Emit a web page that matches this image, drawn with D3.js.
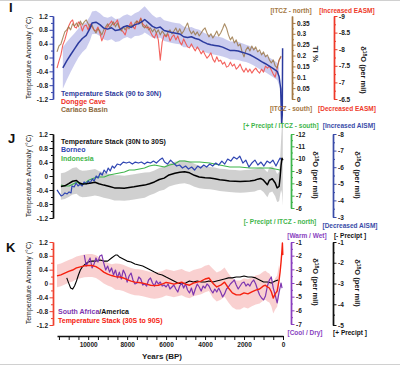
<!DOCTYPE html>
<html>
<head>
<meta charset="utf-8">
<script src="https://cdn.jsdelivr.net/npm/d3@7"></script>
<style>
body{margin:0;background:#fff;}
svg{display:block;font-family:Arial,"Liberation Sans",sans-serif;}
</style>
</head>
<body>
<script>
// ---- data ----
// shared 100-yr age grid for the noisy records
var ageGrid=[11600,11500,11400,11300,11200,11100,11000,10900,10800,10700,10600,10500,10400,10300,10200,10100,10000,9900,9800,9700,9600,9500,9400,9300,9200,9100,9000,8900,8800,8700,8600,8500,8400,8300,8200,8100,8000,7900,7800,7700,7600,7500,7400,7300,7200,7100,7000,6900,6800,6700,6600,6500,6400,6300,6200,6100,6000,5900,5800,5700,5600,5500,5400,5300,5200,5100,5000,4900,4800,4700,4600,4500,4400,4300,4200,4100,4000,3900,3800,3700,3600,3500,3400,3300,3200,3100,3000,2900,2800,2700,2600,2500,2400,2300,2200,2100,2000,1900,1800,1700,1600,1500,1400,1300,1200,1100,1000,900,800,700,600,500,400,300,200,100];

// panel I
var donggeD18O=[-7.43,-7.64,-7.83,-8.13,-8.28,-8.49,-8.70,-8.82,-8.88,-8.67,
-8.64,-8.82,-8.76,-8.55,-8.70,-8.73,-8.58,-8.76,-8.67,-8.58,
-8.55,-8.67,-8.49,-8.25,-8.40,-8.58,-8.70,-8.76,-8.85,-8.73,
-8.79,-8.88,-8.67,-8.58,-8.52,-8.43,-8.64,-8.70,-8.82,-8.67,
-8.61,-8.85,-8.79,-8.94,-8.76,-8.70,-8.64,-8.67,-8.52,-8.40,
-8.34,-8.49,-8.28,-7.67,-8.22,-8.43,-8.37,-8.46,-8.25,-8.37,
-8.43,-8.28,-8.40,-8.22,-8.13,-8.31,-8.19,-8.07,-8.04,-8.16,
-8.04,-7.95,-8.07,-7.98,-7.86,-7.95,-7.83,-7.73,-7.80,-7.89,
-7.70,-7.61,-7.77,-7.64,-7.67,-7.55,-7.61,-7.46,-7.49,-7.61,
-7.49,-7.55,-7.40,-7.46,-7.55,-7.40,-7.31,-7.43,-7.31,-7.40,
-7.28,-7.37,-7.43,-7.34,-7.28,-7.40,-7.31,-7.49,-7.43,-7.49,
-7.37,-7.25,-7.16,-7.43,-7.67,-7.77];
var cariacoTi=[.217,.244,.253,.281,.309,.318,.332,.318,.346,.336,
.350,.332,.359,.341,.355,.364,.346,.327,.341,.318,
.304,.323,.313,.295,.318,.332,.346,.327,.341,.355,
.332,.350,.327,.313,.332,.318,.336,.323,.341,.332,
.350,.359,.346,.369,.336,.327,.341,.318,.327,.309,
.323,.304,.318,.295,.313,.300,.290,.309,.318,.300,
.313,.327,.304,.323,.300,.313,.332,.350,.318,.300,
.313,.295,.309,.290,.304,.318,.327,.304,.286,.300,
.281,.295,.313,.290,.304,.323,.346,.327,.295,.272,
.286,.258,.272,.244,.253,.217,.194,.226,.240,.221,
.244,.226,.240,.217,.226,.203,.217,.194,.203,.180,
.166,.180,.152,.143,.180,.198];
var stackNYears=[11300,11100,10900,10700,10500,10300,10100,9900,9800,9600,9400,9200,9000,8800,8600,8400,8200,8000,7800,7600,7400,7200,7100,6900,6700,6500,6300,6100,5900,5700,5500,5300,5100,4900,4700,4500,4300,4100,3900,3700,3500,3300,3100,2900,2700,2500,2300,2100,1900,1700,1500,1300,1100,900,700,500,300,200,120,70,40,20];
var stackNTemp=[-0.30,-0.10,0.08,0.25,0.42,0.55,0.64,0.85,1.00,1.02,0.95,0.85,0.82,0.86,0.78,0.80,0.88,0.92,0.87,0.95,0.98,1.05,1.10,1.00,0.90,0.85,0.88,0.78,0.75,0.72,0.70,0.68,0.60,0.58,0.60,0.55,0.52,0.45,0.40,0.37,0.35,0.33,0.30,0.25,0.20,0.20,0.19,0.15,0.12,0.08,0.02,-0.05,-0.12,-0.18,-0.25,-0.32,-0.40,-0.55,-0.90,-1.90,-1.90,0.27];
var stackNUnc=[0.60,0.55,0.50,0.45,0.42,0.40,0.38,0.35,0.33,0.33,0.33,0.33,0.33,0.33,0.33,0.33,0.33,0.33,0.33,0.33,0.35,0.38,0.38,0.35,0.33,0.30,0.30,0.30,0.30,0.30,0.30,0.30,0.30,0.28,0.28,0.28,0.28,0.28,0.27,0.27,0.27,0.27,0.27,0.26,0.26,0.26,0.26,0.26,0.25,0.25,0.25,0.25,0.25,0.25,0.25,0.25,0.25,0.25,0.25,0.25,0.25,0.25];

// panel J
var stackTYears=[11400,11200,11000,10800,10600,10450,10300,10100,9850,9650,9450,9200,8900,8650,8400,8150,7900,7650,7350,7100,6850,6600,6350,6100,5850,5550,5300,5050,4800,4550,4300,4000,3750,3500,3250,3000,2750,2450,2200,1950,1700,1450,1300,1150,1000,800,700,550,400,300,200,150,100,50,10];
var stackTTemp=[-0.30,-0.28,-0.22,-0.15,-0.13,-0.20,-0.23,-0.22,-0.20,-0.18,-0.22,-0.26,-0.30,-0.34,-0.34,-0.35,-0.33,-0.31,-0.28,-0.26,-0.22,-0.17,-0.10,-0.06,0.03,0.08,0.11,0.12,0.09,0.02,-0.03,-0.05,-0.06,-0.08,-0.11,-0.12,-0.14,-0.15,-0.16,-0.15,-0.14,-0.12,-0.09,-0.07,-0.12,-0.25,-0.12,-0.08,-0.20,-0.34,-0.30,-0.05,0.30,0.51,0.45];
var stackTUnc=[0.38,0.38,0.38,0.38,0.38,0.38,0.38,0.38,0.38,0.38,0.36,0.36,0.36,0.36,0.36,0.36,0.36,0.36,0.36,0.36,0.33,0.33,0.33,0.33,0.33,0.33,0.33,0.33,0.33,0.33,0.32,0.32,0.32,0.32,0.32,0.32,0.32,0.32,0.32,0.32,0.32,0.32,0.32,0.32,0.34,0.36,0.36,0.36,0.38,0.40,0.42,0.50,0.70,1.00,1.30];
var borneoYears=[11600,11500,11390,11290,11190,11080,10980,10880,10830,10720,10620,10520,10410,10310,10210,10100,10000,9900,9790,9690,9590,9490,9380,9280,9180,9070,8970,8870,8760,8660,8510,8350,8200,8040,7890,7730,7580,7420,7270,7110,6960,6800,6650,6500,6340,6190,6080,5930,5770,5620,5460,5310,5160,5000,4850,4690,4540,4380,4230,4070,3920,3760,3610,3450,3300,3140,2990,2840,2680,2530,2370,2220,2060,1910,1750,1600,1440,1290,1130,980,820,670,520,360,260,150,50];
var borneoD18O=[-4.63,-4.45,-4.27,-4.33,-4.45,-4.39,-4.51,-4.45,-4.87,-4.81,
-5.05,-4.87,-4.99,-4.87,-5.11,-4.99,-5.17,-5.05,-5.29,-5.17,
-5.47,-5.35,-5.65,-5.53,-5.83,-5.65,-5.95,-5.77,-6.07,-5.95,
-6.19,-6.13,-6.31,-6.25,-6.31,-6.19,-6.31,-6.25,-6.31,-6.19,
-6.31,-6.25,-6.37,-6.25,-6.43,-6.55,-6.31,-6.19,-6.43,-6.25,
-6.07,-6.13,-5.95,-6.07,-5.89,-6.01,-5.83,-6.07,-5.95,-6.13,
-6.01,-6.19,-6.07,-6.25,-6.13,-6.37,-6.19,-6.49,-6.37,-6.61,
-6.49,-6.67,-6.25,-6.43,-6.01,-6.25,-6.43,-6.13,-6.31,-6.07,
-6.37,-6.25,-6.43,-6.07,-6.31,-6.55,-6.43];
var indoYears=[11390,11190,10980,10770,10570,10360,10160,9950,9690,9430,9180,8920,8660,8400,8140,7890,7630,7370,7110,6860,6600,6340,6080,5830,5570,5310,5050,4790,4280,3760,3250,2730,2220,1700,1190,670,150];
var indoD18O=[-7.86,-7.78,-7.78,-7.95,-8.11,-7.86,-8.03,-8.27,-8.43,-8.51,-8.51,-8.68,-8.76,-8.84,-8.92,-9.08,-9.08,-9.16,-9.24,-9.41,-9.49,-9.41,-9.32,-9.49,-9.57,-9.81,-9.81,-9.73,-9.73,-9.65,-9.49,-9.32,-9.32,-9.24,-9.24,-9.24,-9.08];

// panel K
var stackSYears=[11600,11400,11200,11000,10800,10600,10400,10200,10000,9800,9600,9400,9200,9000,8800,8600,8400,8200,8000,7800,7600,7400,7200,7000,6800,6600,6400,6200,6000,5800,5600,5400,5200,5000,4800,4600,4400,4200,4000,3800,3600,3400,3200,3000,2800,2600,2400,2200,2000,1800,1600,1400,1200,1000,900,800,700,600,500,400,300,200,150,100,60,30,10];
var stackSTemp=[0.22,0.25,0.30,0.35,0.39,0.45,0.48,0.51,0.52,0.52,0.49,0.42,0.33,0.27,0.23,0.20,0.19,0.16,0.11,0.07,0.04,0.03,0.01,-0.02,-0.05,-0.06,-0.05,-0.02,0.03,0.01,-0.02,0.01,0.04,-0.02,-0.05,0.01,0.04,0.07,0.13,0.16,0.01,-0.10,-0.05,0.04,-0.13,-0.27,-0.33,-0.33,-0.27,-0.30,-0.24,-0.19,-0.16,-0.07,-0.05,-0.10,-0.13,-0.24,-0.42,-0.30,-0.22,0.10,0.33,0.62,0.91,1.17,0.82];
var stackSUnc=[0.33,0.33,0.33,0.33,0.33,0.33,0.33,0.33,0.33,0.33,0.33,0.33,0.33,0.33,0.33,0.38,0.38,0.38,0.38,0.38,0.38,0.38,0.38,0.38,0.38,0.38,0.38,0.38,0.38,0.38,0.38,0.38,0.38,0.38,0.38,0.38,0.38,0.38,0.38,0.38,0.42,0.42,0.42,0.42,0.42,0.42,0.42,0.42,0.42,0.42,0.42,0.42,0.42,0.42,0.42,0.42,0.42,0.42,0.45,0.45,0.45,0.45,0.50,0.50,0.50,0.50,0.50];
var samYears=[11100,11000,10900,10800,10700,10600,10500,10400,10300,10200,10000,9800,9600,9400,9200,9000,8800,8600,8500,8400,8200,8000,7800,7600,7400,7200,7000,6800,6600,6400,6200,6000,5800,5600,5400,5200,5000,4800,4600,4400,4200,4000,3800,3600,3400,3200,3000,2800,2600,2400,2200,2000,1800,1600,1400,1200,1000,800,600,400,250];
var samD18O=[-2.73,-2.98,-3.22,-3.27,-3.12,-2.88,-2.59,-2.35,-2.20,-2.11,-1.96,-1.92,-1.92,-1.87,-1.92,-1.92,-1.77,-1.63,-1.63,-1.72,-1.82,-1.92,-1.96,-2.06,-2.11,-2.16,-2.25,-2.35,-2.45,-2.54,-2.59,-2.69,-2.78,-2.88,-2.98,-3.02,-2.98,-2.88,-2.93,-2.88,-2.93,-2.93,-2.88,-2.93,-2.88,-2.83,-2.78,-2.73,-2.73,-2.69,-2.69,-2.64,-2.69,-2.69,-2.73,-2.83,-2.93,-2.93,-2.98,-2.88,-2.83];
var safYears=ageGrid.slice(14).concat([50]);
var safD18O=[-1.95,-2.76,-2.46,-2.17,-2.90,-2.61,-2.17,-2.46,-2.02,-1.95,
-2.54,-3.05,-2.76,-3.20,-2.90,-3.41,-3.05,-3.63,-3.20,-3.71,
-3.05,-3.34,-3.93,-3.49,-3.27,-3.78,-4.07,-4.00,-3.56,-3.71,
-4.15,-4.07,-4.22,-3.78,-3.63,-4.00,-4.22,-3.85,-4.07,-3.93,
-4.22,-4.15,-4.29,-4.07,-4.44,-4.29,-4.15,-4.44,-4.66,-4.22,
-4.00,-4.37,-4.07,-4.51,-4.73,-4.37,-4.88,-4.44,-4.07,-4.29,
-4.59,-4.22,-4.37,-4.07,-4.22,-4.51,-4.73,-4.44,-4.66,-4.37,
-4.66,-5.02,-4.80,-4.44,-4.29,-4.07,-3.93,-3.78,-4.15,-4.44,
-4.22,-4.00,-3.93,-4.22,-4.07,-4.22,-3.93,-3.78,-4.07,-4.51,
-4.88,-5.10,-5.24,-4.95,-4.22,-3.78,-3.56,-4.37,-4.88,-5.46,
-4.66,-4.00,-4.37];

// tick labels
var tempTicks=[-1.2,-0.8,-0.4,0,0.4,0.8,1.2];
var tiTicks=[0,0.05,0.1,0.15,0.2,0.25,0.3,0.35];
var donggeTicks=[-9,-8.5,-8,-7.5,-7,-6.5];
var indoTicks=[-12,-11,-10,-9,-8,-7,-6];
var borneoTicks=[-8,-7,-6,-5,-4,-3];
var safTicks=[-1,-2,-3,-4,-5,-6,-7];
var samTicks=[-1,-2,-3,-4,-5];
var yearTicks=[10000,8000,6000,4000,2000,0];

// ---- drawing ----
var svg=d3.select("body").append("svg").attr("width",400).attr("height",366);
svg.append("line").attr("x1",0).attr("x2",400).attr("y1",0.5).attr("y2",0.5).attr("stroke","#d0d0d0");
svg.append("line").attr("x1",0).attr("x2",400).attr("y1",364.5).attr("y2",364.5).attr("stroke","#d0d0d0");

var x=d3.scaleLinear().domain([11600,0]).range([57,283]);

function fmtTemp(d){return d===0?"0":d.toFixed(1);}
function fmtPlain(d){return String(d);}

function yAxis(side,px,scale,major,fmt,color){
  var gen=side==="left"?d3.axisLeft:d3.axisRight;
  var minor=[];
  for(var i=0;i<major.length-1;i++) minor.push((major[i]+major[i+1])/2);
  var gm=svg.append("g").attr("transform","translate("+px+",0)")
    .call(gen(scale).tickValues(minor).tickFormat("").tickSize(2).tickSizeOuter(0));
  var g=svg.append("g").attr("transform","translate("+px+",0)")
    .call(gen(scale).tickValues(major).tickFormat(fmt).tickSize(3.5).tickSizeOuter(0).tickPadding(1.5));
  [gm,g].forEach(function(a){
    a.select(".domain").attr("stroke",color).attr("stroke-width",1.4);
    a.selectAll(".tick line").attr("stroke",color).attr("stroke-width",1);
  });
  g.selectAll("text").attr("font-size",6.5).attr("font-weight","bold").attr("fill","#1a1a1a").attr("font-family",null);
}

function line(years,vals,y,color,w,op){
  svg.append("path").datum(d3.zip(years,vals))
    .attr("fill","none").attr("stroke",color).attr("stroke-width",w)
    .attr("stroke-opacity",op||1).attr("stroke-linejoin","round")
    .attr("d",d3.line().x(function(d){return x(d[0]);}).y(function(d){return y(d[1]);}));
}
function band(years,vals,unc,y,color,op,minYear){
  var pts=d3.zip(years,vals,unc).filter(function(d){return d[0]>=minYear;});
  svg.append("path").datum(pts).attr("fill",color).attr("fill-opacity",op)
    .attr("d",d3.area().x(function(d){return x(d[0]);})
      .y0(function(d){return y(d[1]-d[2]);}).y1(function(d){return y(d[1]+d[2]);}));
}
function label(txt,px,py,color,size,anchor,weight){
  return svg.append("text").attr("x",px).attr("y",py).attr("fill",color)
    .attr("font-size",size).attr("text-anchor",anchor||"start")
    .attr("font-weight",weight||"bold").text(txt);
}
function tempTitle(cy){
  svg.append("text").attr("transform","translate(30.5,"+cy+") rotate(-90)")
    .attr("text-anchor","middle").attr("font-size",7).attr("fill","#1a1a1a")
    .text("Temperature Anomaly (°C)");
}
function d18Title(cx,cy){
  var t=svg.append("text").attr("transform","translate("+(cx-2.5)+","+cy+") rotate(90)")
    .attr("text-anchor","middle").attr("font-size",7.5).attr("font-weight","bold").attr("fill","#1a1a1a");
  t.append("tspan").text("δ");
  t.append("tspan").attr("font-size",5).attr("dy",-2.8).text("18");
  t.append("tspan").attr("dy",2.8).text("O (per mil)");
}

// ---- panel I ----
var yI=d3.scaleLinear().domain([-1.2,1.2]).range([99,16]);
var yTi=d3.scaleLinear().domain([0,0.382]).range([99,16]);
var yDg=d3.scaleLinear().domain([-9,-6.5]).range([16,99]);
band(stackNYears,stackNTemp,stackNUnc,yI,"#b9bbe8",0.75,200);
line(ageGrid,donggeD18O,yDg,"#f2504a",1.1,0.9);
line(ageGrid,cariacoTi,yTi,"#96703f",1.1,0.8);
line(stackNYears,stackNTemp,yI,"#2b3a9e",1.5);
yAxis("left",53,yI,tempTicks,fmtTemp,"#3848ad");
yAxis("right",292,yTi,tiTicks,function(d){return d===0?"0":String(+d.toFixed(2));},"#a57843");
yAxis("right",334,yDg,donggeTicks,fmtPlain,"#ee3a2a");
label("I",9,12,"#111",13);
tempTitle(58);
label("Temperature Stack (90 to 30N)",61,95.5,"#2e3b9c",7);
label("Dongge Cave",61,103.5,"#ee2f26",7);
label("Cariaco Basin",61,111.5,"#8c6a3e",7);
label("[ITCZ - north]",291,13,"#a57843",6.5,"middle");
label("[ITCZ - south]",291,110.5,"#a57843",6.5,"middle");
label("[Increased EASM]",347,13,"#ee3a2a",6.5,"middle");
label("[Decreased EASM]",347,110.5,"#ee3a2a",6.5,"middle");
svg.append("text").attr("transform","translate(312.5,54) rotate(90)").attr("text-anchor","middle")
  .attr("font-size",8).attr("font-weight","bold").attr("fill","#1a1a1a").text("Ti %");
d18Title(363,70);

// ---- panel J ----
var yJ=d3.scaleLinear().domain([-1.2,1.2]).range([218,134]);
var yIndo=d3.scaleLinear().domain([-12,-6]).range([134,208]);
var yBor=d3.scaleLinear().domain([-8,-3]).range([134,217]);
band(stackTYears,stackTTemp,stackTUnc,yJ,"#c8c8c8",0.85,0);
line(indoYears,indoD18O,yIndo,"#3fb54b",1.1);
line(borneoYears,borneoD18O,yBor,"#2f45b2",1.2);
line(stackTYears,stackTTemp,yJ,"#000",1.5);
yAxis("left",53,yJ,tempTicks,fmtTemp,"#111");
yAxis("right",291,yIndo,indoTicks,fmtPlain,"#3fb54b");
yAxis("right",333,yBor,borneoTicks,fmtPlain,"#3a4ca8");
label("J",8,143,"#111",13);
tempTitle(176);
label("Temperature Stack (30N to 30S)",61,143.5,"#111",7);
label("Borneo",61,152,"#2f45b2",7);
label("Indonesia",61,160.5,"#3fb54b",7);
label("[+ Precipt / ITCZ - south]",281,128,"#3fb54b",6.5,"middle");
label("[- Precipt / ITCZ - north]",280,224,"#3fb54b",6.5,"middle");
label("[Increased AISM]",349,128,"#3a4ca8",6.5,"middle");
label("[Decreased AISM]",350,227.5,"#3a4ca8",6.5,"middle");
d18Title(315,175);
d18Title(357,175);

// ---- panel K ----
var yK=d3.scaleLinear().domain([-1.2,1.2]).range([325,242]);
var ySaf=d3.scaleLinear().domain([-1,-7]).range([242,324]);
var ySam=d3.scaleLinear().domain([-1,-5]).range([242,325]);
band(stackSYears,stackSTemp,stackSUnc,yK,"#f8c4c4",0.8,200);
line(samYears,samD18O,ySam,"#000",1.1);
line(safYears,safD18O,ySaf,"#7d36b0",1.2);
line(stackSYears,stackSTemp,yK,"#f5200f",1.4);
yAxis("left",53,yK,tempTicks,fmtTemp,"#f0412f");
yAxis("right",291,ySaf,safTicks,fmtPlain,"#8a3fbf");
yAxis("right",333,ySam,samTicks,fmtPlain,"#111");
label("K",6,252,"#111",13);
tempTitle(283);
var lg=label("South Africa",58,313.5,"#7d36b0",7);
lg.append("tspan").attr("fill","#111").text("/America");
label("Temperature Stack (30S to 90S)",58,322.5,"#f5200f",7);
label("[Warm / Wet]",307,237.5,"#8a3fbf",6.5,"middle");
label("[Cool / Dry]",305,334.5,"#8a3fbf",6.5,"middle");
label("[- Precipt ]",350,237.5,"#111",6.5,"middle");
label("[+ Precipt ]",350,334.5,"#111",6.5,"middle");
d18Title(315,282);
d18Title(357,283);

// ---- shared age axis ----
var allYearTicks=d3.range(11500,-1,-500);
var gx=svg.append("g").attr("transform","translate(0,336)")
  .call(d3.axisBottom(x).tickValues(allYearTicks).tickSize(4).tickSizeOuter(0).tickPadding(2.5)
    .tickFormat(function(d){return yearTicks.indexOf(d)>=0?String(d):"";}));
gx.select(".domain").attr("stroke","#111").attr("stroke-width",1.4);
gx.selectAll(".tick line").attr("stroke","#111");
gx.selectAll("text").attr("font-size",6.5).attr("font-weight","bold").attr("fill","#1a1a1a").attr("font-family",null);
label("Years (BP)",162,359,"#1a1a1a",8,"middle");
</script>
</body>
</html>
